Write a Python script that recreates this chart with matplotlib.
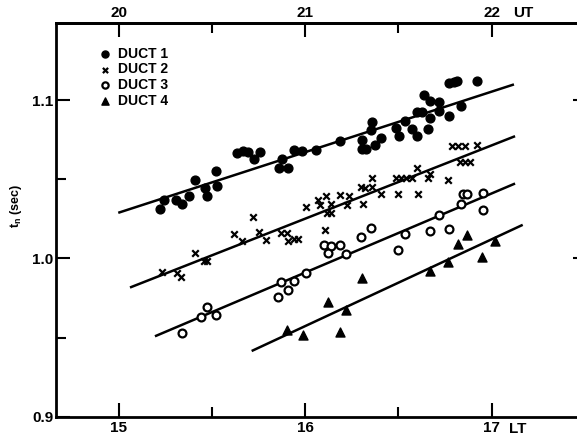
import numpy as np
import matplotlib
matplotlib.use('Agg')
import matplotlib.pyplot as plt
from matplotlib.transforms import blended_transform_factory

# --- data (LT hours, t_n in sec) ---
duct1_lt = [15.220, 15.243, 15.306, 15.339, 15.376, 15.408, 15.462, 15.474, 15.524, 15.521,
            15.631, 15.667, 15.694, 15.725, 15.757, 15.860, 15.874, 15.905, 15.939, 15.983,
            16.056, 16.187, 16.303, 16.325, 16.306, 16.356, 16.353, 16.374, 16.404, 16.487,
            16.504, 16.535, 16.571, 16.601, 16.599, 16.624, 16.635, 16.669, 16.669, 16.657,
            16.717, 16.717, 16.772, 16.834, 16.773, 16.797, 16.815, 16.920]
duct1_tn = [1.0311, 1.0367, 1.0367, 1.0342, 1.0394, 1.0493, 1.0447, 1.0394, 1.0457, 1.0552,
            1.0667, 1.0677, 1.0671, 1.0625, 1.0673, 1.0572, 1.0625, 1.0572, 1.0682, 1.0677,
            1.0684, 1.0740, 1.0688, 1.0688, 1.0747, 1.0860, 1.0809, 1.0715, 1.0761, 1.0822,
            1.0772, 1.0870, 1.0820, 1.0772, 1.0923, 1.0925, 1.1033, 1.0992, 1.0885, 1.0820,
            1.0986, 1.0933, 1.0897, 1.0960, 1.1106, 1.1112, 1.1121, 1.1121]

duct2_lt = [15.230, 15.309, 15.331, 15.408, 15.456, 15.474, 15.619, 15.658, 15.718, 15.753,
            15.790, 15.868, 15.900, 15.909, 15.942, 15.961, 16.003, 16.070, 16.109, 16.081,
            16.139, 16.118, 16.137, 16.106, 16.185, 16.237, 16.222, 16.308, 16.299, 16.320,
            16.356, 16.356, 16.406, 16.487, 16.514, 16.540, 16.571, 16.500, 16.604, 16.602,
            16.669, 16.657, 16.767, 16.786, 16.822, 16.857, 16.920, 16.833, 16.857, 16.882]
duct2_tn = [0.9912, 0.9906, 0.9885, 1.0031, 0.9986, 0.9986, 1.0153, 1.0111, 1.0262, 1.0166,
            1.0116, 1.0162, 1.0162, 1.0107, 1.0122, 1.0122, 1.0326, 1.0369, 1.0394, 1.0340,
            1.0342, 1.0284, 1.0284, 1.0179, 1.0399, 1.0391, 1.0340, 1.0346, 1.0451, 1.0445,
            1.0451, 1.0506, 1.0407, 1.0506, 1.0506, 1.0506, 1.0508, 1.0407, 1.0407, 1.0569,
            1.0536, 1.0511, 1.0495, 1.0709, 1.0709, 1.0709, 1.0715, 1.0611, 1.0611, 1.0608]

duct3_lt = [15.337, 15.438, 15.471, 15.523, 15.855, 15.905, 15.869, 15.939, 16.005, 16.098,
            16.137, 16.120, 16.187, 16.218, 16.299, 16.354, 16.500, 16.535, 16.669, 16.769,
            16.717, 16.836, 16.848, 16.866, 16.955, 16.954]
duct3_tn = [0.9528, 0.9627, 0.9690, 0.9642, 0.9755, 0.9802, 0.9853, 0.9860, 0.9907, 1.0086,
            1.0080, 1.0034, 1.0086, 1.0030, 1.0136, 1.0195, 1.0053, 1.0153, 1.0174, 1.0185,
            1.0272, 1.0346, 1.0405, 1.0405, 1.0415, 1.0308]

duct4_lt = [15.902, 15.988, 16.120, 16.187, 16.218, 16.303, 16.669, 16.764, 16.817, 16.870,
            16.951, 17.018]
duct4_tn = [0.9550, 0.9516, 0.9726, 0.9535, 0.9675, 0.9875, 0.9923, 0.9977, 1.0092, 1.0147,
            1.0011, 1.0107]

# fitted lines (end points)
fit1_lt = [14.996, 17.120]
fit1_tn = [1.0288, 1.1099]
fit2_lt = [15.059, 17.126]
fit2_tn = [0.9816, 1.0772]
fit3_lt = [15.193, 17.126]
fit3_tn = [0.9508, 1.0473]
fit4_lt = [15.712, 17.167]
fit4_tn = [0.9415, 1.0212]

plt.rcParams['font.family'] = ['Liberation Sans', 'DejaVu Sans']
plt.rcParams['font.weight'] = 'bold'
plt.rcParams['mathtext.fontset'] = 'custom'
plt.rcParams['mathtext.rm'] = 'Liberation Sans:bold'
plt.rcParams['mathtext.it'] = 'Liberation Sans:bold'
plt.rcParams['mathtext.bf'] = 'Liberation Sans:bold'

fig = plt.figure(figsize=(5.77, 4.38), dpi=100)
ax = fig.add_axes([0.0979, 0.0486, 0.9073, 0.9])

ax.scatter(duct1_lt, duct1_tn, s=40, marker='o', color='black', label='DUCT 1', zorder=3)
ax.scatter(duct2_lt, duct2_tn, s=22, marker='x', color='black', linewidths=1.6, label='DUCT 2', zorder=3)
ax.scatter(duct3_lt, duct3_tn, s=32, marker='o', facecolors='white', edgecolors='black',
           linewidths=1.6, label='DUCT 3', zorder=3)
ax.scatter(duct4_lt, duct4_tn, s=42, marker='^', color='black', label='DUCT 4', zorder=3)

for lx, ly in [(fit1_lt, fit1_tn), (fit2_lt, fit2_tn), (fit3_lt, fit3_tn), (fit4_lt, fit4_tn)]:
    ax.plot(lx, ly, color='black', lw=1.8, solid_capstyle='butt', zorder=2)

ax.set_xlim(14.6645, 17.4745)
ax.set_ylim(0.9, 1.149)
ax.set_xticks([15, 16, 17])
ax.set_xticklabels(['15', '16', '17'])
ax.set_xticks([15.5, 16.5], minor=True)
ax.set_yticks([0.9, 1.0, 1.1])
ax.set_yticklabels(['0.9', '1.0', '1.1'])
ax.set_yticks([0.95, 1.05], minor=True)
ax.tick_params(which='both', direction='in', width=1.5, labelsize=11, top=False, right=False)
ax.tick_params(which='major', length=10)
ax.tick_params(which='minor', length=7.5)
ax.tick_params(axis='y', pad=2)
ax.tick_params(axis='x', pad=3)
for sp in ax.spines.values():
    sp.set_linewidth(2)

# small ticks on the right side
rax = ax.secondary_yaxis('right')
rax.set_yticks([1.0, 1.1])
rax.tick_params(direction='in', length=5, width=1.5, labelright=False)
rax.spines['right'].set_linewidth(2)

# UT on top (UT = LT + 5)
top = ax.secondary_xaxis('top', functions=(lambda x: x + 5, lambda x: x - 5))
top.set_xticks([20, 21, 22])
top.set_xticklabels(['20', '21', '22'])
top.set_xticks([20.5, 21.5], minor=True)
top.tick_params(which='both', direction='in', width=1.5, labelsize=11, pad=1.5)
top.tick_params(which='major', length=10)
top.tick_params(which='minor', length=7.5)
top.spines['top'].set_linewidth(2)

trans = blended_transform_factory(ax.transData, ax.transAxes)
ax.text(17.093, -0.014, 'LT', transform=trans, ha='left', va='top', fontsize=11, fontweight='bold')
ax.text(17.118, 1.006, 'UT', transform=trans, ha='left', va='bottom', fontsize=11, fontweight='bold')

ax.set_ylabel(r'$t_n$ (sec)', fontsize=9, fontweight='bold')
ax.yaxis.set_label_coords(-0.062, 0.534)

ax.legend(loc='upper left', bbox_to_anchor=(0.0793, 0.939), frameon=False, borderpad=0,
          borderaxespad=0, handlelength=1, handletextpad=0.44, labelspacing=0.12,
          markerscale=0.8, prop={'weight': 'bold', 'size': 10})

fig.savefig('out.png', dpi=100)
